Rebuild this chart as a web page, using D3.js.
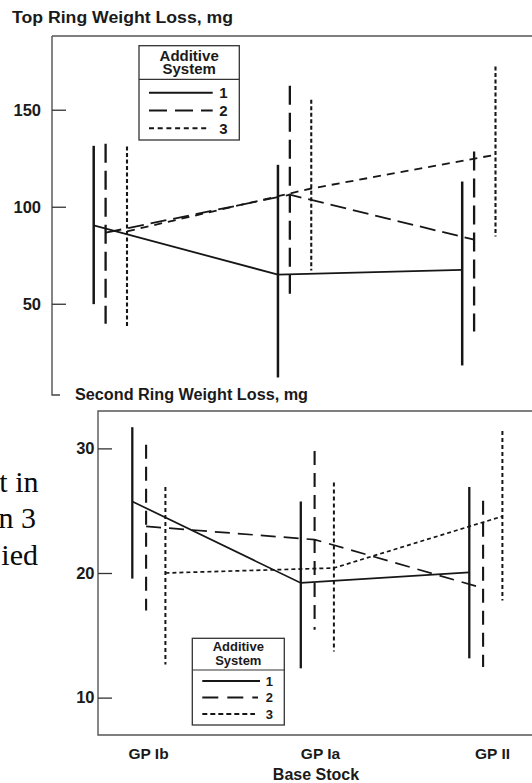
<!DOCTYPE html>
<html><head><meta charset="utf-8">
<script src="https://cdn.jsdelivr.net/npm/d3@7"></script>
<style>
html,body{margin:0;padding:0;background:#fff;}
svg{display:block;}
text{font-family:"Liberation Sans",Arial,Helvetica,sans-serif;fill:#1a1a1a;}
</style></head><body>
<svg id="c" width="532" height="783"></svg>
<script>
// ---------- data ----------
const categories = ["GP Ib", "GP Ia", "GP II"];
const seriesNames = ["1", "2", "3"];
const topTicks = [50, 100, 150];
const bottomTicks = [10, 20, 30];

// Top ring weight loss, mg (mean, upper and lower limits)
const topMean1 = [90.4, 65.0, 67.5];
const topHigh1 = [131.4, 121.6, 113.0];
const topLow1  = [49.8, 12.0, 18.2];
const topMean2 = [86.6, 106.2, 83.0];
const topHigh2 = [132.5, 162.4, 128.5];
const topLow2  = [39.7, 53.4, 35.7];
const topMean3 = [87.3, 109.4, 126.8];
const topHigh3 = [131.0, 155.2, 172.3];
const topLow3  = [38.3, 67.2, 84.7];

// Second ring weight loss, mg
const botMean1 = [25.74, 19.2, 20.05];
const botHigh1 = [31.7, 25.74, 26.9];
const botLow1  = [19.55, 12.35, 13.15];
const botMean2 = [23.74, 22.68, 18.78];
const botHigh2 = [30.3, 29.8, 25.8];
const botLow2  = [17.0, 15.45, 12.46];
const botMean3 = [20.0, 20.4, 24.55];
const botHigh3 = [26.9, 27.27, 31.4];
const botLow3  = [12.65, 13.7, 17.8];

const sideText = ["t in", "n 3", "ied"];

// ---------- styles ----------
const topStyle = {
  line: ["none", "16,7", "8,6"], bar: ["none", "19,8", "4,2.5"],
  lineW: [1.8, 1.8, 1.8], barW: [2.5, 2.3, 2.1]
};
const botStyle = {
  line: ["none", "15,8", "4,3"], bar: ["none", "14,8", "4,3"],
  lineW: [1.7, 1.7, 1.7], barW: [2.3, 2.1, 2.0]
};

const svg = d3.select("#c");
const ink = "#161616";

function build(means, highs, lows) {
  return seriesNames.map((s, i) => ({
    name: s, i,
    pts: categories.map((c, j) => ({cat: c, mean: means[i][j], hi: highs[i][j], lo: lows[i][j]}))
  }));
}
const topData = build([topMean1, topMean2, topMean3], [topHigh1, topHigh2, topHigh3], [topLow1, topLow2, topLow3]);
const botData = build([botMean1, botMean2, botMean3], [botHigh1, botHigh2, botHigh3], [botLow1, botLow2, botLow3]);

// ---------- scales ----------
const topY = d3.scaleLinear().domain([4, 188]).range([393, 36]);
const topX = d3.scalePoint().domain(categories).range([93.7, 462.2]);
const topDodge = d3.scaleOrdinal().domain(seriesNames).range([0, 11.9, 33.3]);

const botY = d3.scaleLinear().domain([7, 33]).range([735, 411]);
const botX = d3.scalePoint().domain(categories).range([132.3, 469.3]);
const botDodge = d3.scaleOrdinal().domain(seriesNames).range([0, 13.8, 33.1]);
const botLabelX = d3.scalePoint().domain(categories).range([148, 492]);

// ---------- frames ----------
svg.append("path").attr("d", "M52,36V395H60").attr("fill", "none").attr("stroke", "#444").attr("stroke-width", 1.3);
svg.append("line").attr("x1", 52).attr("x2", 532).attr("y1", 36).attr("y2", 36).attr("stroke", "#555").attr("stroke-width", 1.4);
svg.append("path").attr("d", "M532,411H98V735H532").attr("fill", "none").attr("stroke", "#555").attr("stroke-width", 1.4);

// ---------- titles ----------
svg.append("text").attr("x", 12).attr("y", 22.5).attr("font-weight", "bold").attr("font-size", 16)
  .attr("textLength", 221).attr("lengthAdjust", "spacingAndGlyphs").text("Top Ring Weight Loss, mg");
svg.append("text").attr("x", 75).attr("y", 399.5).attr("font-weight", "bold").attr("font-size", 16)
  .attr("textLength", 233).attr("lengthAdjust", "spacingAndGlyphs").text("Second Ring Weight Loss, mg");

// side text (cropped paragraph)
const sideEnds = [38.5, 36, 38];
svg.append("g").selectAll("text").data(sideText).join("text")
  .attr("x", (d, i) => sideEnds[i]).attr("y", (d, i) => 491.7 + i * 36.7)
  .attr("text-anchor", "end").attr("font-size", 30)
  .style("font-family", "'Liberation Serif','Times New Roman',serif").style("fill", "#0a0a0a")
  .text(d => d);

// ---------- axes ----------
function styleAxis(g, fs) {
  g.select(".domain").remove();
  g.selectAll(".tick line").attr("stroke", "#333").attr("stroke-width", 1.3);
  g.selectAll(".tick text").attr("font-size", fs).attr("font-weight", "bold")
    .attr("font-family", "'Liberation Sans',Arial,sans-serif").attr("fill", "#1a1a1a");
}
svg.append("g").attr("transform", "translate(52,0)")
  .call(d3.axisLeft(topY).tickValues(topTicks).tickSizeInner(-14).tickSizeOuter(0).tickPadding(11))
  .call(g => styleAxis(g, 16.5));
svg.append("g").attr("transform", "translate(98,0)")
  .call(d3.axisLeft(botY).tickValues(bottomTicks).tickSizeInner(-14).tickSizeOuter(0).tickPadding(3.5))
  .call(g => styleAxis(g, 16.5));
svg.append("g").attr("transform", "translate(0,735)")
  .call(d3.axisBottom(botLabelX).tickSize(0).tickPadding(13))
  .call(g => { styleAxis(g, 15.5); g.selectAll(".tick line").remove(); });
svg.append("text").attr("x", 316).attr("y", 780).attr("text-anchor", "middle")
  .attr("font-weight", "bold").attr("font-size", 16).text("Base Stock");

// ---------- marks ----------
function drawPanel(data, x, dodge, y, st) {
  const g = svg.append("g");
  const line = d3.line().x(p => p.px).y(p => y(p.mean));
  data.forEach(s => {
    const pts = s.pts.map(p => Object.assign({}, p, {px: x(p.cat) + dodge(s.name)}));
    g.append("path").datum(pts).attr("d", line).attr("fill", "none")
      .attr("stroke", ink).attr("stroke-width", st.lineW[s.i])
      .attr("stroke-dasharray", st.line[s.i]);
    g.selectAll(null).data(pts).join("line")
      .attr("x1", p => p.px).attr("x2", p => p.px)
      .attr("y1", p => y(p.hi)).attr("y2", p => y(p.lo))
      .attr("stroke", ink).attr("stroke-width", st.barW[s.i])
      .attr("stroke-dasharray", st.bar[s.i]);
  });
}
drawPanel(topData, topX, topDodge, topY, topStyle);
drawPanel(botData, botX, botDodge, botY, botStyle);

// ---------- legends ----------
function legend(o) {
  const g = svg.append("g");
  g.append("rect").attr("x", o.x0).attr("y", o.y0).attr("width", o.x1 - o.x0).attr("height", o.y1 - o.y0)
    .attr("fill", "#fff").attr("stroke", "#333").attr("stroke-width", 1.3);
  g.append("line").attr("x1", o.x0).attr("x2", o.x1).attr("y1", o.div).attr("y2", o.div)
    .attr("stroke", "#333").attr("stroke-width", 1.2);
  const cx = (o.x0 + o.x1) / 2;
  const head = g.append("text").attr("text-anchor", "middle")
    .attr("font-weight", "bold").attr("font-size", o.fs);
  head.append("tspan").attr("x", cx).attr("y", o.h1).text("Additive");
  head.append("tspan").attr("x", cx).attr("y", o.h2).text("System");
  const rows = g.selectAll("g.row").data(seriesNames).join("g").attr("class", "row");
  rows.append("line").attr("x1", o.lx0).attr("x2", (d, i) => o.lx1[i])
    .attr("y1", (d, i) => o.ly + i * o.dy).attr("y2", (d, i) => o.ly + i * o.dy)
    .attr("stroke", ink).attr("stroke-width", 2).attr("stroke-dasharray", (d, i) => o.dash[i]);
  rows.append("text").attr("x", o.tx).attr("y", (d, i) => o.ly + i * o.dy + o.fs * 0.36)
    .attr("text-anchor", "middle").attr("font-weight", "bold").attr("font-size", o.fs).text(d => d);
}
legend({x0: 139, x1: 239.3, y0: 45.7, y1: 140, div: 79.3, h1: 61.3, h2: 74, fs: 15,
  lx0: 149, lx1: [212.7, 212.7, 210], ly: 92.7, dy: 17.8, tx: 223.3, dash: ["none", "18,8", "5,3.7"]});
legend({x0: 192.3, x1: 284.3, y0: 638.3, y1: 725, div: 670, h1: 651, h2: 665, fs: 13,
  lx0: 202.3, lx1: [260, 258, 255], ly: 681, dy: 16.5, tx: 269.3, dash: ["none", "16,9", "5,3"]});
</script>
</body></html>
